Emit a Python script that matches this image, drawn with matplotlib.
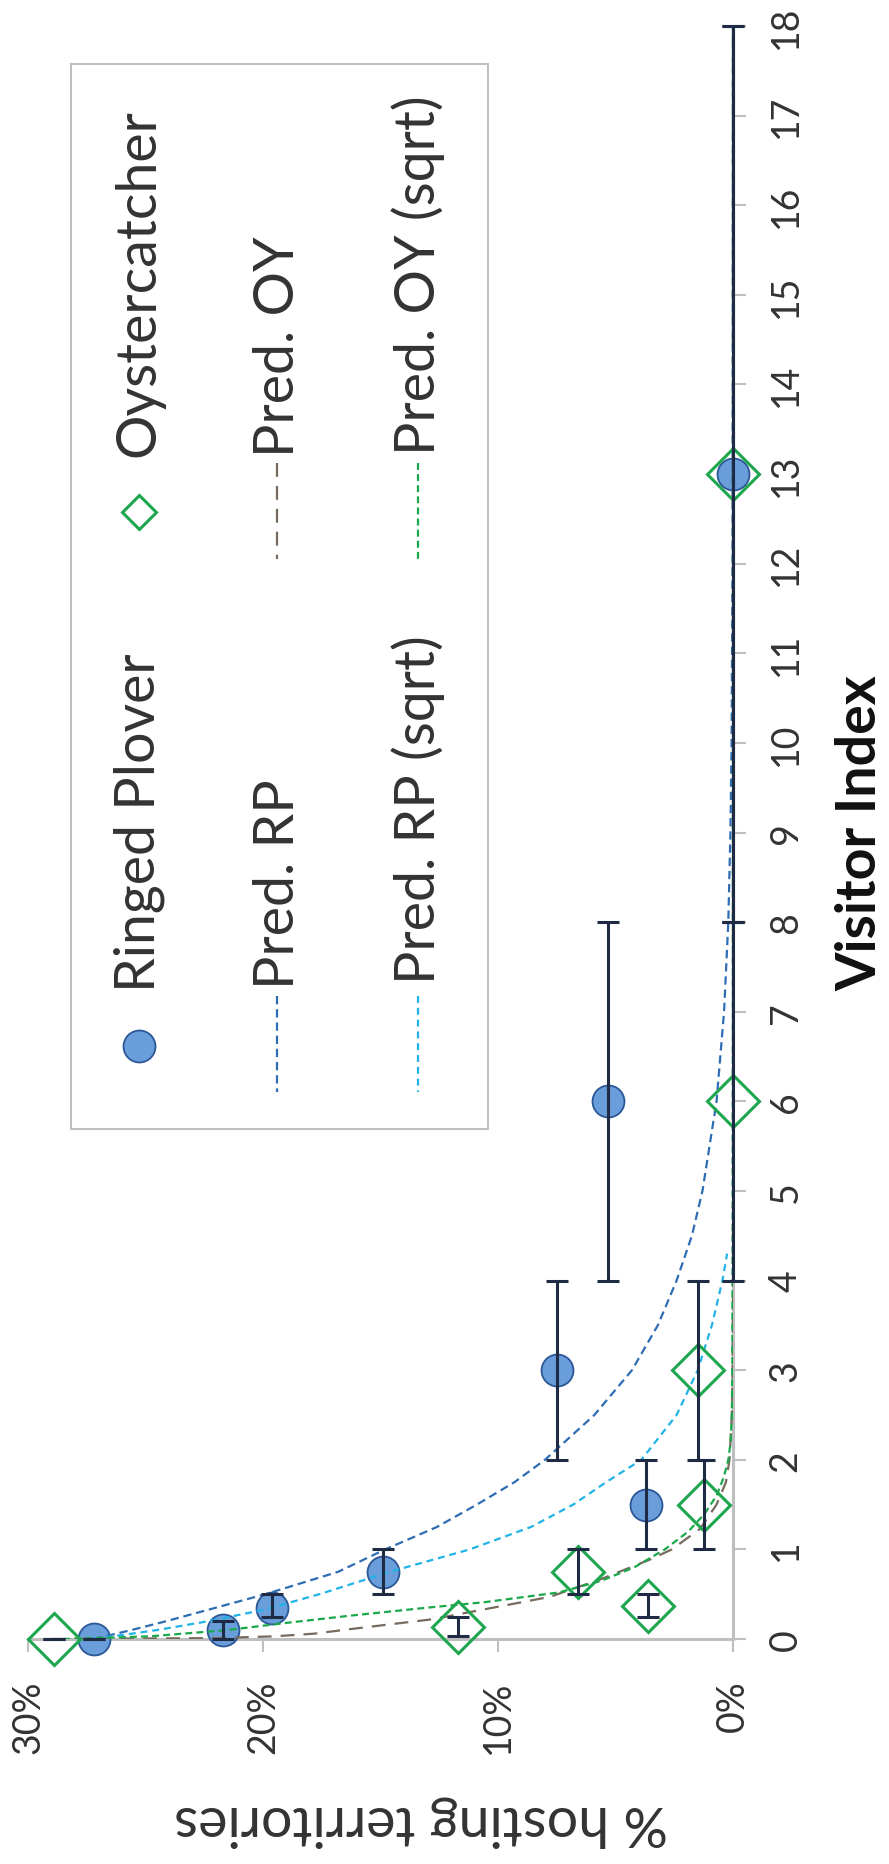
import numpy as np
import matplotlib
matplotlib.use('Agg')
import matplotlib.pyplot as plt
from matplotlib.patches import Rectangle

plt.rcParams['font.family'] = ['Lato', 'DejaVu Sans']
plt.rcParams['lines.scale_dashes'] = False

# observed data (visitor index, % hosting territories) with visitor-index bins
rp_v = np.array([0, 0.1, 0.35, 0.75, 1.5, 3, 6, 13])
rp_p = np.array([27.2, 21.7, 19.6, 14.9, 3.7, 7.5, 5.3, 0])
rp_lo = np.array([0, 0, 0.25, 0.5, 1, 2, 4, 8])
rp_hi = np.array([0, 0.2, 0.5, 1, 2, 4, 8, 18])

oy_v = np.array([0, 0.13, 0.37, 0.75, 1.5, 3, 6, 13])
oy_p = np.array([28.9, 11.7, 3.6, 6.6, 1.25, 1.5, 0, 0])
oy_lo = np.array([0, 0.03, 0.25, 0.5, 1, 2, 4, 8])
oy_hi = np.array([0, 0.25, 0.5, 1, 2, 4, 8, 18])

# predicted curves
pred_rp_v = [0, 0.1, 0.2, 0.35, 0.5, 0.75, 1.0, 1.25, 1.5, 1.75, 2.0, 2.5, 3, 3.5, 4, 4.5, 5, 6, 7, 8, 9, 10, 12, 14, 18]
pred_rp_p = [27.2, 25.6, 24.1, 22.0, 19.9, 16.8, 14.8, 12.6, 10.9, 9.3, 8.0, 5.9, 4.3, 3.2, 2.4, 1.75, 1.3, 0.7, 0.38, 0.2, 0.11, 0.06, 0.02, 0.01, 0]

pred_rps_v = [0, 0.1, 0.2, 0.33, 0.5, 0.75, 1.0, 1.25, 1.5, 1.75, 2.0, 2.5, 3.0, 3.5, 4.0, 4.3]
pred_rps_p = [27.2, 24.5, 22.3, 19.9, 17.6, 14.6, 11.2, 8.6, 6.8, 5.4, 3.9, 2.4, 1.5, 0.9, 0.45, 0.25]

pred_oy_v = [0, 0.01, 0.03, 0.06, 0.11, 0.22, 0.33, 0.47, 0.67, 0.89, 1.0, 1.23, 1.5, 1.75, 2.0, 2.5, 3, 4, 6, 10, 18]
pred_oy_p = [29, 22, 19.5, 17.8, 16.3, 12.8, 10.6, 7.8, 5.6, 3.5, 2.6, 1.4, 0.7, 0.3, 0.15, 0.05, 0.02, 0, 0, 0, 0]

pred_oys_v = [0, 0.03, 0.1, 0.18, 0.26, 0.35, 0.41, 0.52, 0.65, 0.8, 1.0, 1.2, 1.4, 1.6, 1.8, 2.0, 2.2, 2.5, 3, 4, 6, 10, 18]
pred_oys_p = [28.5, 24.8, 21.5, 19, 16.3, 13, 10.6, 7.4, 5.6, 4.2, 2.9, 1.9, 1.2, 0.7, 0.4, 0.2, 0.1, 0.05, 0.03, 0.02, 0.01, 0, 0]

visitor_ticks = list(range(19))
pct_ticks = [0, 10, 20, 30]
pct_labels = ['0%', '10%', '20%', '30%']

C_RP = '#2E6DB4'
C_RPS = '#21B3E8'
C_OY = '#776B5D'
C_OYS = '#19A84A'
C_FILL = '#6A9EDA'
C_EDGE = '#2B5797'
C_DIA = '#1DA64E'
C_ERR = '#1F2A44'
C_AX = '#BFBFBF'
C_TXT = '#333333'

W, H = 889, 1865
fig = plt.figure(figsize=(W / 100, H / 100), dpi=100)


def box(x0, y0, x1, y1):
    return [x0 / W, 1 - y1 / H, (x1 - x0) / W, (y1 - y0) / H]


ax = fig.add_axes(box(28, 27, 733, 1640))
ax.set_xlim(30, 0)
ax.set_ylim(0, 18)

# predicted lines
ax.plot(pred_rp_p, pred_rp_v, color=C_RP, lw=1.6, dashes=(6, 3.5), zorder=3)
ax.plot(pred_rps_p, pred_rps_v, color=C_RPS, lw=1.6, dashes=(5, 3.5), zorder=3)
ax.plot(pred_oy_p, pred_oy_v, color=C_OY, lw=1.6, dashes=(10, 6.5), zorder=3)
ax.plot(pred_oys_p, pred_oys_v, color=C_OYS, lw=1.6, dashes=(5, 3), zorder=3)

# observed points
ax.plot(rp_p, rp_v, 'o', ms=23, mfc=C_FILL, mec=C_EDGE, mew=1.3, zorder=2, clip_on=False)
ax.plot(oy_p, oy_v, 'D', ms=26, mfc='none', mec=C_DIA, mew=2.2, zorder=4, clip_on=False)

for p, v, lo, hi in [(rp_p, rp_v, rp_lo, rp_hi), (oy_p, oy_v, oy_lo, oy_hi)]:
    ax.errorbar(p, v, yerr=[v - lo, hi - v], fmt='none', ecolor=C_ERR,
                elinewidth=2.2, capsize=8, capthick=2.2, zorder=5, clip_on=False)

for s in ['left', 'top']:
    ax.spines[s].set_visible(False)
for s in ['right', 'bottom']:
    ax.spines[s].set_color(C_AX)
    ax.spines[s].set_linewidth(2.2)
    ax.spines[s].set_zorder(1)

ax.yaxis.tick_right()
ax.set_yticks(visitor_ticks)
ax.set_yticklabels([str(t) for t in visitor_ticks], rotation=90, va='center', ha='left')
ax.set_xticks(pct_ticks)
ax.set_xticklabels(pct_labels, rotation=90, ha='center', va='top')
ax.tick_params(axis='y', length=9, width=1.5, color=C_AX, pad=16, labelsize=27, labelcolor=C_TXT)
ax.tick_params(axis='x', length=9, width=1.5, color=C_AX, pad=20, labelsize=27, labelcolor=C_TXT)

# overlay in pixel coordinates for legend and axis titles
lg = fig.add_axes([0, 0, 1, 1])
lg.set_xlim(0, W)
lg.set_ylim(H, 0)
lg.axis('off')
lg.patch.set_visible(False)

lg.add_patch(Rectangle((71, 65), 417, 1065, fill=False, ec=C_AX, lw=1.5))
lg.plot([139], [1047], 'o', ms=23, mfc=C_FILL, mec=C_EDGE, mew=1.3)
lg.plot([139], [513], 'D', ms=17, mfc='none', mec=C_DIA, mew=2.2)
lg.plot([277, 277], [997, 1093], color=C_RP, lw=1.6, dashes=(6, 3.5))
lg.plot([277, 277], [464, 560], color=C_OY, lw=1.6, dashes=(10, 6.5))
lg.plot([418, 418], [997, 1093], color=C_RPS, lw=1.6, dashes=(5, 3.5))
lg.plot([418, 418], [464, 560], color=C_OYS, lw=1.6, dashes=(5, 3))

legend_items = [('Ringed Plover', 139, 823), ('Oystercatcher', 139, 283),
                ('Pred. RP', 279, 884), ('Pred. OY', 279, 347),
                ('Pred. RP (sqrt)', 418, 810), ('Pred. OY (sqrt)', 418, 275)]
for label, x, y in legend_items:
    lg.text(x, y, label, rotation=90, ha='center', va='center', fontsize=40, color=C_TXT)

lg.text(860, 833, 'Visitor Index', rotation=90, ha='center', va='center',
        fontsize=40, fontweight='bold', color='#111111')
lg.text(421, 1822, '% hosting territories', rotation=180, ha='center', va='center',
        fontsize=40, color=C_TXT)

fig.savefig('out.png', dpi=100)
